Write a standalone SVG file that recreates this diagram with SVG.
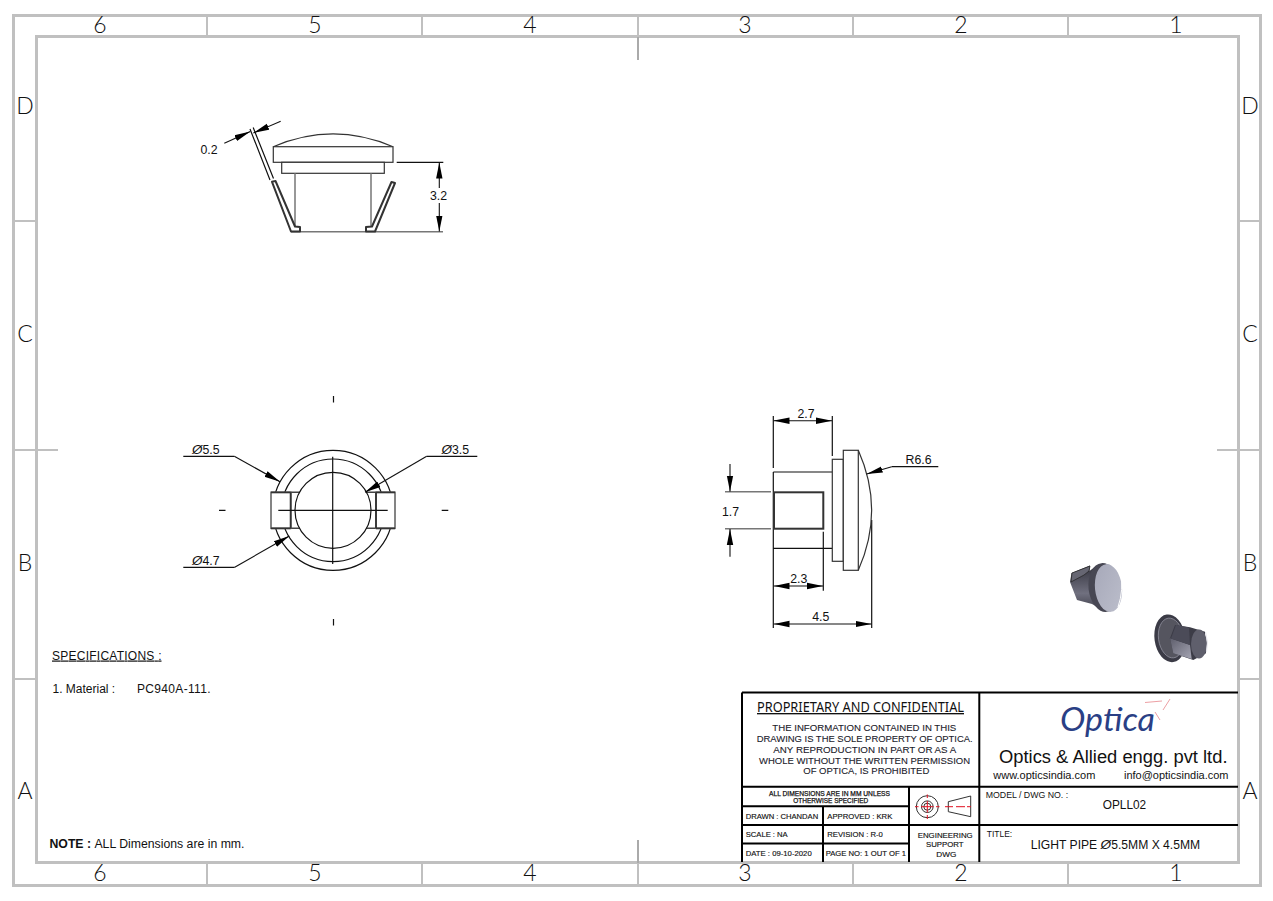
<svg xmlns="http://www.w3.org/2000/svg" width="1273" height="901" viewBox="0 0 1273 901">
<style>
text{font-family:"Liberation Sans",Arial,sans-serif;fill:#111}
.zone{font-family:Lato,"Open Sans",sans-serif;font-weight:300;font-size:23px;fill:#111;text-anchor:middle}
.dim{font-size:12.3px;text-anchor:middle}
.st{text-anchor:start}
.dia{font-style:italic;font-size:13.5px}
.frame{fill:none;stroke:#c0c0c0;stroke-width:3}
.tick{fill:none;stroke:#c0c0c0;stroke-width:2}
.l{fill:none;stroke:#111;stroke-width:1.2}
.g{fill:none;stroke:#777;stroke-width:1.5}
.a{fill:none;stroke:#111;stroke-width:1.1;marker-end:url(#ah)}
.b{fill:none;stroke:#111;stroke-width:1.1;marker-start:url(#ahs);marker-end:url(#ah)}
.part{fill:#fff;stroke:#333;stroke-width:1.2}
.clip{fill:#fff;stroke:#333;stroke-width:2;stroke-linejoin:round}
.tb{fill:none;stroke:#000;stroke-width:2}
.t8{font-size:8px;stroke:#111;stroke-width:.15}
.tc{font-size:9.5px;fill:#1a1a2a;stroke:#1a1a2a;stroke-width:.1}
.red{fill:none;stroke:#e01020;stroke-width:1}
.sym{fill:none;stroke:#333;stroke-width:1}
</style>
<defs>
<marker id="ah" markerUnits="userSpaceOnUse" markerWidth="17" markerHeight="8" refX="16" refY="4" orient="auto"><path d="M16,4 L0,0.8 L0,7.2 Z" fill="#000"/></marker>
<marker id="ahs" markerUnits="userSpaceOnUse" markerWidth="17" markerHeight="8" refX="0" refY="4" orient="auto"><path d="M0,4 L16,0.8 L16,7.2 Z" fill="#000"/></marker>
<linearGradient id="body" x1="0" y1="0" x2="0" y2="1"><stop offset="0" stop-color="#33333d"/><stop offset=".6" stop-color="#70707f"/><stop offset="1" stop-color="#3a3a45"/></linearGradient>
<linearGradient id="face" x1="0" y1="0" x2="1" y2="1"><stop offset="0" stop-color="#a6a8b9"/><stop offset="1" stop-color="#bcbecb"/></linearGradient>
<linearGradient id="band" x1="0" y1="0" x2="1" y2="1"><stop offset="0" stop-color="#5e5e6c"/><stop offset="1" stop-color="#a5a5b3"/></linearGradient>
</defs>

<g id="frame">
<rect class="frame" x="13.5" y="15.5" width="1247" height="870"/>
<rect class="frame" x="36.5" y="36.5" width="1202" height="826"/>
<path class="tick" d="M207 15V37M422 15V37M853 15V37M1068 15V37M638 15V37M207 863V885M422 863V885M853 863V885M1068 863V885M638 863V885M13 221H37M13 450H58M13 679H37M1238 221H1261M1217 450H1261M1238 679H1261"/>
<path d="M638 37V60M638 840V863" fill="none" stroke="#aaa" stroke-width="2"/>
<text class="zone" x="100" y="33">6</text><text class="zone" x="315" y="33">5</text><text class="zone" x="530" y="33">4</text><text class="zone" x="745" y="33">3</text><text class="zone" x="961" y="33">2</text><text class="zone" x="1176" y="33">1</text>
<text class="zone" x="100" y="881">6</text><text class="zone" x="315" y="881">5</text><text class="zone" x="530" y="881">4</text><text class="zone" x="745" y="881">3</text><text class="zone" x="961" y="881">2</text><text class="zone" x="1176" y="881">1</text>
<text class="zone" x="25" y="114">D</text><text class="zone" x="25" y="342">C</text><text class="zone" x="25" y="571">B</text><text class="zone" x="25" y="799">A</text>
<text class="zone" x="1250" y="114">D</text><text class="zone" x="1250" y="342">C</text><text class="zone" x="1250" y="571">B</text><text class="zone" x="1250" y="799">A</text>
</g>

<g id="view-top">
<path class="part" d="M273.3 146.7Q333 121 393 146.7"/>
<rect class="part" x="273.3" y="146.7" width="119.7" height="15.6"/>
<rect class="part" x="281.7" y="162.3" width="102.6" height="11"/>
<path class="g" d="M295 173.3V231M371 173.3V231M291 231.7H443"/>
<path class="clip" d="M272 181.8L275.5 181L295 226.5L300 227L300 231.5L291 231.5Z"/>
<path class="clip" d="M391.5 182L395 183L375 231.5L366 231.5L366 227L372 226.5Z"/>
<path class="l" d="M270 180L250 129M273.5 178.5L253.2 127.5M396.7 162.3H443.3"/>
<path class="a" d="M224.3 143.3L250.3 131.6"/>
<path class="a" d="M280.7 121.3L253.4 133"/>
<path class="a" d="M439.3 188V162.5"/>
<path class="a" d="M439.3 203V231.5"/>
<text class="dim" x="209" y="154">0.2</text>
<text class="dim" x="438.5" y="200">3.2</text>
</g>

<g id="view-front">
<circle class="l" cx="333" cy="510.3" r="60"/>
<circle class="l" cx="333" cy="510.3" r="51.3"/>
<path d="M290.7 492.3H300M290.7 528.3H300M366 492.3H376M366 528.3H376" stroke="#444" stroke-width="1.6" fill="none"/>
<rect x="271" y="492.3" width="19.7" height="36" fill="#fff" stroke="#666" stroke-width="1.6"/>
<rect x="376" y="492.3" width="19" height="36" fill="#fff" stroke="#666" stroke-width="1.6"/>
<path d="M271 492.3H290.7M271 528.3H290.7M376 492.3H395M376 528.3H395M290.7 492.3V528.3M376 492.3V528.3" stroke="#333" stroke-width="1.8" fill="none"/>
<circle cx="333" cy="510.3" r="38" fill="#fff" stroke="#111" stroke-width="1.2"/>
<path class="l" d="M278.3 510.3H387.7M332.7 456.7V564M333.5 396V402.5M333.5 619V625.5M219 510.3H225.5M441.7 510.3H448.3"/>
<path class="l" d="M183.3 456.3H234.3"/>
<path class="a" d="M234.3 456.3L280 481.7"/>
<path class="l" d="M477.3 456.3H426.7"/>
<path class="a" d="M426.7 456.3L365 492.3"/>
<path class="l" d="M183.3 567.3H234.7"/>
<path class="a" d="M234.7 567.3L289.3 536"/>
<text class="dim st" x="192" y="454"><tspan class="dia">Ø</tspan>5.5</text>
<text class="dim st" x="441.5" y="454"><tspan class="dia">Ø</tspan>3.5</text>
<text class="dim st" x="192" y="565"><tspan class="dia">Ø</tspan>4.7</text>
</g>

<g id="view-side">
<path class="l" d="M773.3 416V468M773.3 472V628M773.3 472H832.3M773.3 548.3H832.3M832.3 416V456M823.3 531.7V590.7M871.7 520V628"/>
<rect x="774" y="492.3" width="49.3" height="36.4" fill="#fff" stroke="#333" stroke-width="2"/>
<rect class="part" x="832.3" y="459.3" width="11" height="102"/>
<rect class="part" x="843.3" y="450.3" width="15" height="120"/>
<path class="part" d="M858.3 450.3Q885 510.3 858.3 570.3" style="fill:none"/>
<path class="g" d="M725 491.7H771M725 528.7H771"/>
<path class="a" d="M730 464V491.5"/>
<path class="a" d="M730 556.7V529"/>
<path class="b" d="M773.5 420.7H832"/>
<path class="b" d="M773.5 586H823"/>
<path class="b" d="M773.5 624H871.5"/>
<path class="l" d="M938.3 466.7H891.7"/>
<path class="a" d="M891.7 466.7L866.7 474"/>
<text class="dim" x="806" y="417.5">2.7</text>
<text class="dim" x="798.7" y="583">2.3</text>
<text class="dim" x="820.7" y="621">4.5</text>
<text class="dim" x="730.5" y="516">1.7</text>
<text class="dim st" x="905.5" y="463.7">R6.6</text>
</g>

<g id="view-iso">
<path d="M1071.5 573L1090 565.5L1089.5 571L1096 566L1106 612L1092 604L1077 600L1070 582Z" fill="url(#body)"/>
<path d="M1072 573L1090 566L1089 571L1084 575L1071 582Z" fill="#666672" stroke="#222" stroke-width=".7"/>
<ellipse cx="1104" cy="587.5" rx="15.5" ry="24.5" fill="#474753" transform="rotate(-6 1104 587.5)"/>
<ellipse cx="1108.5" cy="588" rx="13.5" ry="24" fill="url(#face)" transform="rotate(-6 1108.5 588)"/>
<path d="M1120.5 572Q1124 590 1118 607" fill="none" stroke="#fff" stroke-width="1"/>
<ellipse cx="1170" cy="638.3" rx="15.5" ry="24" fill="#3b3b46" transform="rotate(-8 1170 638.3)"/>
<ellipse cx="1171" cy="638" rx="12.5" ry="20" fill="#55555f" stroke="#8c8c9a" stroke-width=".8" transform="rotate(-8 1171 638)"/>
<path d="M1175 625L1190 627.3L1205 631.7L1206 653.3L1193.3 660L1173.3 653.3L1170 638.3Z" fill="#3c3c47"/>
<path d="M1170 638.3L1190 645L1191.7 659L1173.3 653.3Z" fill="url(#band)"/>
<path d="M1176 625L1189 627.5L1190 645L1171 638.5Z" fill="#4b4b58"/>
<ellipse cx="1199" cy="644" rx="8" ry="14.5" fill="#5f5f6c"/>
<path d="M1205.5 632Q1209 642 1206.5 652" fill="none" stroke="#e8e8ee" stroke-width="1"/>
</g>

<g id="notes">
<text x="52" y="659.5" font-size="12" text-decoration="underline" textLength="109.5">SPECIFICATIONS :</text>
<text x="52.5" y="692.7" font-size="12">1. Material :</text>
<text x="137" y="692.7" font-size="12" textLength="73.5">PC940A-111.</text>
<text x="49.5" y="847.5" font-size="12" textLength="195" lengthAdjust="spacingAndGlyphs"><tspan font-weight="bold">NOTE : </tspan>ALL Dimensions are in mm.</text>
</g>

<g id="title-block">
<path class="tb" d="M742 692.5H1238M742 692.5V862M979.3 692.5V862M742 786.7H1238M909 786.7V862M742 806.3H909M742 825H1238M742 843.5H909M823 806.3V862"/>
<text x="757" y="712" style="font-family:'Noto Sans',sans-serif;font-size:13.5px" text-decoration="underline" textLength="207" lengthAdjust="spacingAndGlyphs">PROPRIETARY AND CONFIDENTIAL</text>
<text class="tc" x="772.3" y="731" textLength="184" lengthAdjust="spacingAndGlyphs">THE INFORMATION CONTAINED IN THIS</text>
<text class="tc" x="756.7" y="742" textLength="216" lengthAdjust="spacingAndGlyphs">DRAWING IS THE SOLE PROPERTY OF OPTICA.</text>
<text class="tc" x="773.3" y="753" textLength="183" lengthAdjust="spacingAndGlyphs">ANY REPRODUCTION  IN PART OR AS A</text>
<text class="tc" x="759" y="763.5" textLength="211" lengthAdjust="spacingAndGlyphs">WHOLE WITHOUT THE WRITTEN PERMISSION</text>
<text class="tc" x="803.3" y="774" textLength="126" lengthAdjust="spacingAndGlyphs">OF OPTICA, IS PROHIBITED</text>
<text class="t8" x="769" y="795.7" textLength="121" lengthAdjust="spacingAndGlyphs" style="font-size:6.8px;stroke-width:.25">ALL DIMENSIONS ARE IN MM UNLESS</text>
<text class="t8" x="793.3" y="802.7" textLength="75" lengthAdjust="spacingAndGlyphs" style="font-size:6.8px;stroke-width:.25">OTHERWISE SPECIFIED</text>
<text class="t8" x="745.7" y="819" textLength="72.5" lengthAdjust="spacingAndGlyphs">DRAWN : CHANDAN</text>
<text class="t8" x="827.3" y="819" textLength="65" lengthAdjust="spacingAndGlyphs">APPROVED : KRK</text>
<text class="t8" x="745.7" y="837.3" textLength="42" lengthAdjust="spacingAndGlyphs">SCALE : NA</text>
<text class="t8" x="827.3" y="837.3" textLength="55.5" lengthAdjust="spacingAndGlyphs">REVISION : R-0</text>
<text class="t8" x="745.7" y="856" textLength="66" lengthAdjust="spacingAndGlyphs">DATE : 09-10-2020</text>
<text class="t8" x="825.7" y="856" textLength="80.3" lengthAdjust="spacingAndGlyphs">PAGE NO: 1 OUT OF 1</text>
<text class="t8" x="917.7" y="838" textLength="55" lengthAdjust="spacingAndGlyphs">ENGINEERING</text>
<text class="t8" x="926" y="847" textLength="37.5" lengthAdjust="spacingAndGlyphs">SUPPORT</text>
<text class="t8" x="936.3" y="856.5" textLength="20" lengthAdjust="spacingAndGlyphs">DWG</text>
<circle class="sym" cx="927.3" cy="806.7" r="11"/>
<circle class="sym" cx="927.3" cy="806.7" r="5.8"/>
<circle class="sym" cx="927.3" cy="806.7" r="3.5"/>
<path class="red" d="M927.3 794.5V798M927.3 801V812.5M927.3 815V819M915 806.7H918.5M921 806.7H933.5M936 806.7H939.5"/>
<path class="sym" d="M948.3 801.7L970.7 796V816.7L948.3 811.7Z"/>
<path class="red" d="M945 806.7H953M956 806.7H965M967 806.7H971"/>
<text x="1060" y="730.7" style="font-family:Lato,'Open Sans',sans-serif;font-weight:400;fill:#2a3f85" font-size="33" font-style="italic" textLength="95" lengthAdjust="spacingAndGlyphs">Optica</text>
<path d="M1145 702.5L1162 701M1170 699L1163 710M1155 712L1160 720" fill="none" stroke="#eda0a4" stroke-width="1"/>
<text x="999" y="763" font-size="18" textLength="228.5" lengthAdjust="spacingAndGlyphs">Optics &amp; Allied engg. pvt ltd.</text>
<text x="993.3" y="779" font-size="11" textLength="102" lengthAdjust="spacingAndGlyphs">www.opticsindia.com</text>
<text x="1124" y="779" font-size="11" textLength="104.5" lengthAdjust="spacingAndGlyphs">info@opticsindia.com</text>
<text x="985.7" y="797.7" font-size="8.5" textLength="82.5" lengthAdjust="spacingAndGlyphs">MODEL / DWG NO. :</text>
<text x="1102.7" y="809" font-size="12" textLength="43.5" lengthAdjust="spacingAndGlyphs">OPLL02</text>
<text x="986.7" y="837" font-size="8.5" textLength="25.5" lengthAdjust="spacingAndGlyphs">TITLE:</text>
<text x="1030.7" y="849" font-size="12" textLength="169.5" lengthAdjust="spacingAndGlyphs">LIGHT PIPE  <tspan class="dia">Ø</tspan>5.5MM X 4.5MM</text>
</g>
</svg>
